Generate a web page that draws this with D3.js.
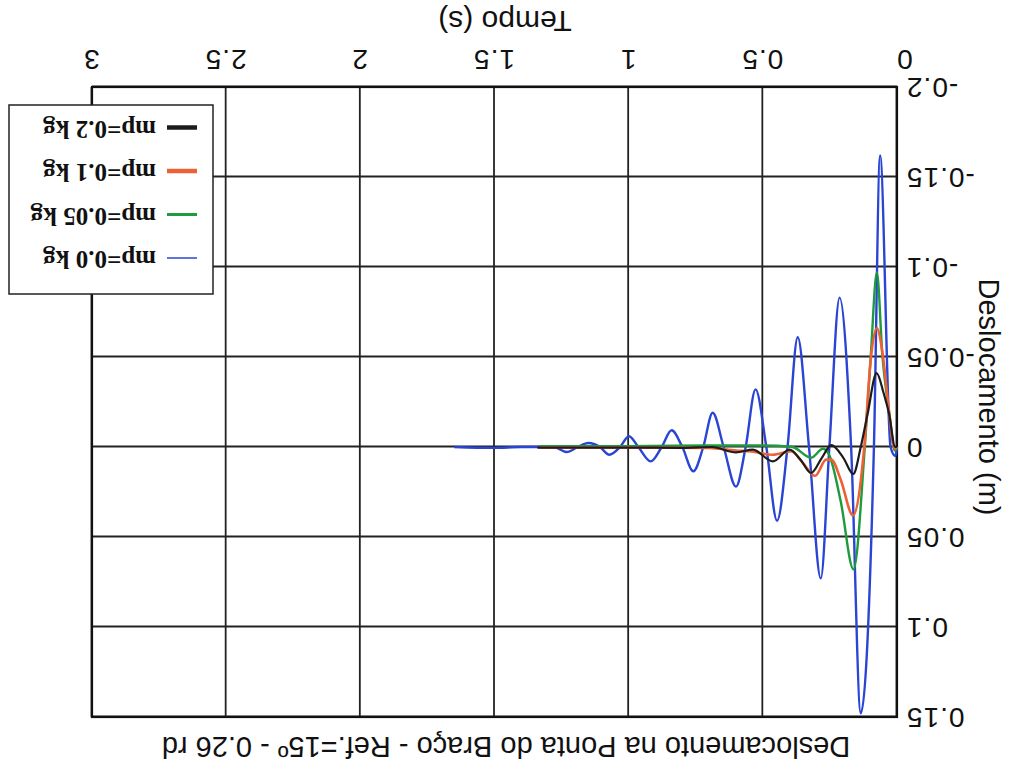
<!DOCTYPE html>
<html>
<head>
<meta charset="utf-8">
<script src="https://cdn.jsdelivr.net/npm/d3@7"></script>
<style>
  body { margin: 0; background: #fff; }
  svg text { fill: #111; }
</style>
</head>
<body>
<svg width="1011" height="771"></svg>
<script>
const xTicks = [0, 0.5, 1, 1.5, 2, 2.5, 3];
const yTicks = [-0.2, -0.15, -0.1, -0.05, 0, 0.05, 0.1, 0.15];

const blueT = [0, 0.006, 0.024, 0.063, 0.086, 0.135, 0.171, 0.214, 0.252, 0.284, 0.328, 0.37, 0.408, 0.447, 0.487, 0.527, 0.564, 0.6, 0.646, 0.687, 0.722, 0.759, 0.80, 0.84, 0.877, 0.918, 0.964, 0.999, 1.032, 1.072, 1.107, 1.15, 1.19, 1.231, 1.28, 1.4, 1.5, 1.65];
const blueV = [0, 0.005, 0, -0.162, 0, 0.148, 0, -0.083, 0, 0.073, 0, -0.061, 0, 0.041, 0, -0.032, 0, 0.022, 0, -0.019, 0, 0.0135, 0, -0.0093, 0, 0.008, 0, -0.006, 0, 0.0043, 0, -0.0022, 0, 0.0028, 0, 0, 0.0005, 0];

const greenT = [0, 0.008, 0.03, 0.054, 0.075, 0.098, 0.12, 0.162, 0.21, 0.254, 0.276, 0.32, 0.39, 0.5, 0.7, 1.0, 1.33];
const greenV = [0, 0.002, -0.02, -0.05, -0.097, -0.05, 0, 0.068, 0.03, 0.004, 0.001, 0.006, 0, -0.0008, -0.0008, -0.0005, -0.0005];

const orangeT = [0, 0.008, 0.03, 0.052, 0.075, 0.097, 0.122, 0.164, 0.21, 0.245, 0.264, 0.305, 0.35, 0.394, 0.463, 0.55, 0.6, 0.7, 1.0, 1.33];
const orangeV = [0, 0.001, -0.02, -0.05, -0.066, -0.05, 0, 0.038, 0.018, 0.007, 0.007, 0.016, 0.009, 0.0024, 0.0043, 0.0024, 0.002, 0.0005, 0.0003, 0.0003];

const blackT = [0, 0.007, 0.029, 0.05, 0.076, 0.11, 0.135, 0.163, 0.2, 0.245, 0.28, 0.32, 0.36, 0.40, 0.463, 0.537, 0.6, 0.69, 0.8, 1.0, 1.34];
const blackV = [0, 0, -0.018, -0.03, -0.041, -0.018, 0, 0.015, 0.006, -0.001, 0.006, 0.0144, 0.007, 0.0015, 0.008, 0.0015, 0.003, 0, 0.0005, 0.0003, 0.0003];

const seriesNames = ["mp=0.0 kg", "mp=0.05 kg", "mp=0.1 kg", "mp=0.2 kg"];
const seriesColors = ["#2a44d4", "#1f9a3c", "#ec6236", "#1c1c1c"];
const seriesWidths = [2.4, 2.4, 2.6, 2.2];
const legendWidths = [1.5, 3, 4.5, 4.5];

const series = [
    {t: blueT, v: blueV},
    {t: greenT, v: greenV},
    {t: orangeT, v: orangeV},
    {t: blackT, v: blackV}
];

const sans = "'Liberation Sans', Arial, sans-serif";
const serif = "'Liberation Serif', 'Times New Roman', serif";

const svg = d3.select("svg");
// the scanned page is upside down, so draw normally and turn it
const g = svg.append("g").attr("transform", "rotate(180 505.5 385.5)");

const x = d3.scaleLinear().domain([0, 3]).range([114, 919]);
const y = d3.scaleLinear().domain([-0.2, 0.15]).range([684, 54]);
const plotTop = y(0.15), plotBottom = y(-0.2), plotLeft = x(0), plotRight = x(3);

//grid + tick labels
const xAxis = g.append("g")
    .attr("transform", "translate(0," + plotBottom + ")")
    .call(d3.axisBottom(x).tickValues(xTicks).tickSize(-(plotBottom - plotTop)).tickPadding(17)
        .tickFormat(d => d));
const yAxis = g.append("g")
    .attr("transform", "translate(" + plotLeft + ",0)")
    .call(d3.axisLeft(y).tickValues(yTicks).tickSize(-(plotRight - plotLeft)).tickPadding(9)
        .tickFormat(d => d));

[xAxis, yAxis].forEach(a => {
    a.select(".domain").remove();
    a.selectAll(".tick line").attr("stroke", "#222").attr("stroke-width", 1.8);
    a.selectAll(".tick text")
        .style("font-family", sans)
        .style("font-size", "28px")
        .style("letter-spacing", "1px");
});
// the "0" under the corner sits a little left of its tick
xAxis.selectAll(".tick text").filter(d => d === 0).attr("x", -8);

//plot border
g.append("rect")
    .attr("x", plotLeft).attr("y", plotTop)
    .attr("width", plotRight - plotLeft).attr("height", plotBottom - plotTop)
    .attr("fill", "none").attr("stroke", "#111").attr("stroke-width", 2.2);

//curves
const line = d3.line()
    .x(d => x(d[0]))
    .y(d => y(d[1]))
    .curve(d3.curveMonotoneX);

series.forEach((s, i) => {
    g.append("path")
        .datum(s.t.map((t, j) => [t, s.v[j]]))
        .attr("fill", "none")
        .attr("stroke", seriesColors[i])
        .attr("stroke-width", seriesWidths[i])
        .attr("stroke-linejoin", "round")
        .attr("d", line);
});

//titles
g.append("text")
    .attr("x", 505).attr("y", 34)
    .attr("text-anchor", "middle")
    .style("font-family", sans)
    .style("font-size", "29px")
    .text("Deslocamento na Ponta do Braço - Ref.=15º - 0.26 rd");

g.append("text")
    .attr("x", 506).attr("y", 760)
    .attr("text-anchor", "middle")
    .style("font-family", sans)
    .style("font-size", "30px")
    .text("Tempo (s)");

g.append("text")
    .attr("transform", "translate(32,374) rotate(-90)")
    .attr("text-anchor", "middle")
    .style("font-family", sans)
    .style("font-size", "29px")
    .text("Deslocamento (m)");

//legend
const legend = g.append("g").attr("transform", "translate(798,477)");
legend.append("rect")
    .attr("width", 204).attr("height", 189)
    .attr("fill", "#fff").attr("stroke", "#222").attr("stroke-width", 1.5);

seriesNames.forEach((name, i) => {
    const ly = 36 + i * 43.5;
    legend.append("line")
        .attr("x1", 16).attr("x2", 46)
        .attr("y1", ly).attr("y2", ly)
        .attr("stroke", seriesColors[i])
        .attr("stroke-width", legendWidths[i]);
    legend.append("text")
        .attr("x", 57).attr("y", ly + 7)
        .style("font-family", serif)
        .style("font-weight", "bold")
        .style("font-size", "25px")
        .text(name);
});
</script>
</body>
</html>
